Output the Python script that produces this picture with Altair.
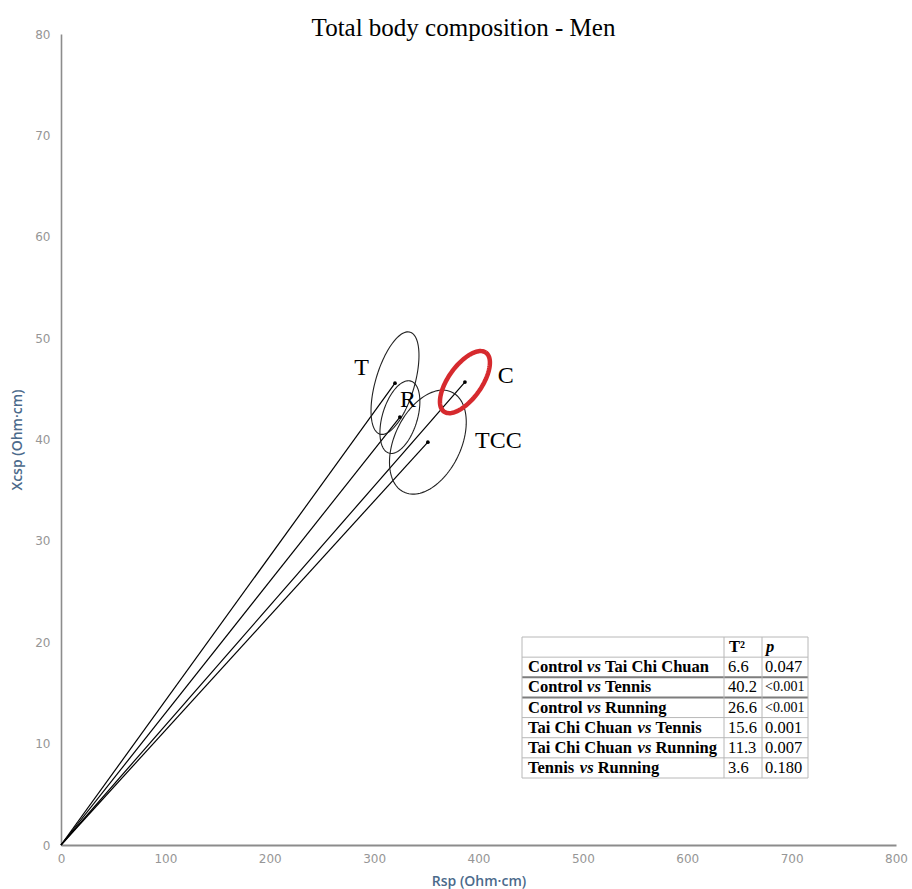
import numpy as np
import pandas as pd
import altair as alt

# ---- group centroids (Rsp, Xcsp) ----
groups = ["T", "R", "C", "TCC"]
centre_rsp = [320.0, 324.7, 387.0, 351.5]
centre_xcsp = [45.56, 42.21, 45.66, 39.74]

# confidence-ellipse shape: two conjugate half-axis vectors in data units
major_drsp = [14.4, 10.5, 20.1, 23.0]
major_dxcsp = [5.03, 3.55, 2.91, 4.93]
minor_drsp = [17.9, 16.0, 13.0, 28.7]
minor_dxcsp = [-0.54, -0.50, -0.955, -1.42]

# group label anchors
label_rsp = [288.0, 332.5, 426.0, 419.0]
label_xcsp = [47.1, 43.9, 46.25, 39.9]

# Hotelling T² comparison table
comp_left = ["Control", "Control", "Control", "Tai Chi Chuan", "Tai Chi Chuan", "Tennis"]
comp_right = ["Tai Chi Chuan", "Tennis", "Running", "Tennis", "Running", "Running"]
t2_values = ["6.6", "40.2", "26.6", "15.6", "11.3", "3.6"]
p_values = ["0.047", "<0.001", "<0.001", "0.001", "0.007", "0.180"]

# ---- frames ----
centres = pd.DataFrame({"group": groups, "rsp": centre_rsp, "xcsp": centre_xcsp})

ell_rows = []
n_seg = 120
for g, cx, cy, ax, ay, bx, by in zip(groups, centre_rsp, centre_xcsp,
                                     major_drsp, major_dxcsp, minor_drsp, minor_dxcsp):
    for k in range(n_seg + 1):
        a = 2 * np.pi * k / n_seg
        ell_rows.append({"group": g, "k": k,
                         "rsp": cx + ax * np.cos(a) + bx * np.sin(a),
                         "xcsp": cy + ay * np.cos(a) + by * np.sin(a)})
ellipses = pd.DataFrame(ell_rows)

labels = pd.DataFrame({"group": groups, "rsp": label_rsp, "xcsp": label_xcsp})

xs = alt.Scale(domain=[0, 800], nice=False)
ys = alt.Scale(domain=[0, 80], nice=False)

x_axis = alt.Axis(title="Rsp (Ohm·cm)", values=list(range(0, 801, 100)), grid=False,
                  ticks=False, tickSize=0, domainColor="#8c8c8c", domainWidth=2.2,
                  labelColor="#969696", labelFont="DejaVu Sans", labelFontSize=12,
                  labelPadding=8, labelFlush=False,
                  titleColor="#4b6a8b", titleFont="Open Sans", titleFontSize=14,
                  titleFontWeight=600, titlePadding=10)
y_axis = alt.Axis(title="Xcsp (Ohm·cm)", values=list(range(0, 81, 10)), grid=False,
                  ticks=False, tickSize=0, domainColor="#8c8c8c", domainWidth=1.6,
                  labelColor="#969696", labelFont="DejaVu Sans", labelFontSize=12,
                  labelPadding=11, labelFlush=False,
                  titleColor="#4b6a8b", titleFont="Open Sans", titleFontSize=14,
                  titleFontWeight=600, titlePadding=10)

rays = alt.Chart(centres).mark_rule(color="black", strokeWidth=1.2).encode(
    x=alt.X("rsp:Q", scale=xs, axis=x_axis),
    y=alt.Y("xcsp:Q", scale=ys, axis=y_axis),
    x2=alt.datum(0),
    y2=alt.datum(0),
)

ell_black = alt.Chart(ellipses).transform_filter(alt.datum.group != "C").mark_line(
    color="#222222", strokeWidth=1.1
).encode(x="rsp:Q", y="xcsp:Q", order="k:Q", detail="group:N")

ell_red = alt.Chart(ellipses).transform_filter(alt.datum.group == "C").mark_line(
    color="#d62a2e", strokeWidth=4.5
).encode(x="rsp:Q", y="xcsp:Q", order="k:Q", detail="group:N")

dots = alt.Chart(centres).mark_circle(color="black", size=14, opacity=1).encode(
    x="rsp:Q", y="xcsp:Q"
)

group_text = alt.Chart(labels).mark_text(
    font="Liberation Serif", fontSize=24, color="black", align="center", baseline="middle"
).encode(x="rsp:Q", y="xcsp:Q", text="group:N")

main = alt.layer(rays, ell_black, ell_red, dots, group_text)

# ---- comparison table (pixel layout inside the plot area) ----
TB_LEFT, TB_RIGHT = 461.0, 747.0
COL_T2, COL_P = 663.0, 701.0
TB_TOP, TB_BOTTOM = 603.0, 744.0
n_rows = len(comp_left) + 1
row_h = (TB_BOTTOM - TB_TOP) / n_rows
FS = 16.5

BOLD_W = {" ": 250, "C": 722, "o": 500, "n": 556, "t": 333, "r": 444, "l": 278,
          "T": 667, "a": 500, "i": 278, "h": 556, "u": 556, "e": 444, "s": 389,
          "R": 722, "g": 500}
VS_W = 444 + 389


def bold_width(s):
    return sum(BOLD_W[c] for c in s) / 1000 * FS


text_rows = []
for i, (a, b, t2, p) in enumerate(zip(comp_left, comp_right, t2_values, p_values), start=1):
    yc = TB_TOP + (i + 0.5) * row_h
    x0 = TB_LEFT + 6
    x_vs = x0 + bold_width(a) + 0.25 * FS
    x_b = x_vs + VS_W / 1000 * FS + 0.25 * FS
    text_rows += [
        {"text": a, "x": x0, "y": yc, "style": "bold", "fs": FS},
        {"text": "vs", "x": x_vs, "y": yc, "style": "bolditalic", "fs": FS},
        {"text": b, "x": x_b, "y": yc, "style": "bold", "fs": FS},
        {"text": t2, "x": COL_T2 + 4, "y": yc, "style": "regular", "fs": 16.5},
        {"text": p, "x": COL_P + 3, "y": yc, "style": "regular",
         "fs": 14 if p.startswith("<") else 16.5},
    ]
head_y = TB_TOP + 0.5 * row_h
text_rows += [
    {"text": "T²", "x": COL_T2 + 5, "y": head_y, "style": "bold", "fs": FS},
    {"text": "p", "x": COL_P + 4, "y": head_y, "style": "bolditalic", "fs": FS},
]
table_text = pd.DataFrame(text_rows)

line_rows = []
for i in range(n_rows + 1):
    heavy = i in (2, 3)
    line_rows.append({"x1": TB_LEFT, "x2": TB_RIGHT, "y1": TB_TOP + i * row_h,
                      "y2": TB_TOP + i * row_h, "w": 2.0 if heavy else 1.0,
                      "c": "#7d7d7d" if heavy else "#b8b8b8"})
for xv in (TB_LEFT, COL_T2, COL_P, TB_RIGHT):
    line_rows.append({"x1": xv, "x2": xv, "y1": TB_TOP, "y2": TB_BOTTOM,
                      "w": 1.0, "c": "#b8b8b8"})
table_lines = pd.DataFrame(line_rows)

table_bg = alt.Chart(pd.DataFrame({"x1": [TB_LEFT], "x2": [TB_RIGHT],
                                   "y1": [TB_TOP], "y2": [TB_BOTTOM]})).mark_rect(
    color="white"
).encode(
    x=alt.X("x1:Q", scale=None, axis=None), x2="x2:Q",
    y=alt.Y("y1:Q", scale=None, axis=None), y2="y2:Q",
)

grid_lines = alt.Chart(table_lines).mark_rule().encode(
    x=alt.X("x1:Q", scale=None, axis=None), x2="x2:Q",
    y=alt.Y("y1:Q", scale=None, axis=None), y2="y2:Q",
    strokeWidth=alt.StrokeWidth("w:Q", scale=None, legend=None),
    color=alt.Color("c:N", scale=None, legend=None),
)


def table_text_layer(style, weight, font_style):
    return alt.Chart(table_text).transform_filter(alt.datum.style == style).mark_text(
        font="Liberation Serif", fontWeight=weight, fontStyle=font_style,
        color="black", align="left", baseline="middle"
    ).encode(
        x=alt.X("x:Q", scale=None, axis=None),
        y=alt.Y("y:Q", scale=None, axis=None),
        text="text:N",
        size=alt.Size("fs:Q", scale=None, legend=None),
    )


table = alt.layer(
    table_bg,
    grid_lines,
    table_text_layer("bold", "bold", "normal"),
    table_text_layer("bolditalic", "bold", "italic"),
    table_text_layer("regular", "normal", "normal"),
)

chart = alt.layer(main, table).resolve_scale(
    x="independent", y="independent"
).properties(
    width=835,
    height=811,
    title=alt.TitleParams("Total body composition - Men", font="Liberation Serif",
                          fontSize=25, fontWeight="normal", color="black",
                          anchor="middle", dx=-15, baseline="alphabetic", offset=-33),
    padding={"left": 61, "top": 34, "right": 16, "bottom": 44},
    autosize=alt.AutoSizeParams(type="none"),
    background="white",
).configure_view(stroke=None)

chart.save("out.html", embed_options={"renderer": "svg", "actions": False})
